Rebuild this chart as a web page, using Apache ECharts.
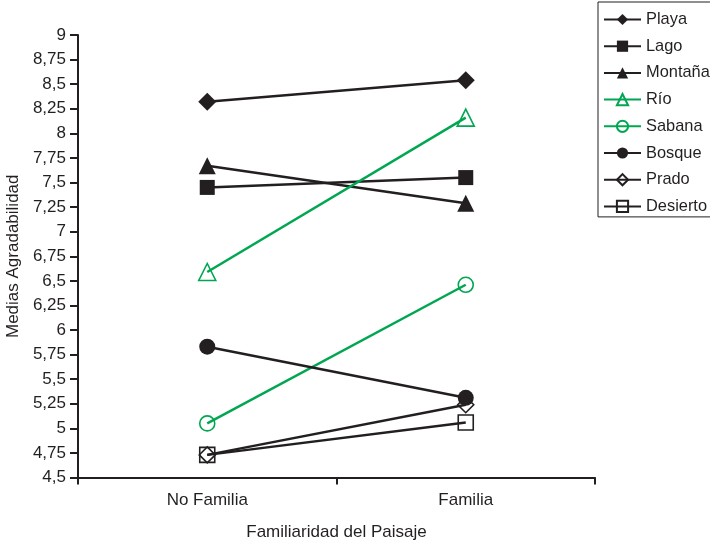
<!DOCTYPE html>
<html>
<head>
<meta charset="utf-8">
<script src="https://cdn.jsdelivr.net/npm/echarts@6/dist/echarts.min.js"></script>
<style>
  html, body { margin: 0; padding: 0; background: #fff; }
  #chart { width: 710px; height: 542px; }
</style>
</head>
<body>
<div id="chart"></div>
<script>
// Mean pleasantness per landscape type, by familiarity
const categories = ['No Familia', 'Familia'];
const playa    = [8.32, 8.54];
const lago     = [7.45, 7.55];
const montana  = [7.67, 7.29];
const rio      = [6.59, 8.16];
const sabana   = [5.05, 6.46];
const bosque   = [5.83, 5.31];
const prado    = [4.73, 5.24];
const desierto = [4.73, 5.06];

const BLACK = '#231f20';
const GREEN = '#00a651';
const FONT = 'Liberation Sans';
const FS = 17;

function serie(name, data, color, symbol, size, hollow) {
  return {
    name, type: 'line', data,
    symbol, symbolSize: size,
    lineStyle: { color, width: 2.5 },
    itemStyle: {
      color: hollow ? 'rgba(255,255,255,0)' : color,
      borderColor: color,
      borderWidth: hollow ? 1.6 : 0
    },
    emphasis: { disabled: true },
    z: 3
  };
}

const chart = echarts.init(document.getElementById('chart'));
chart.setOption({
  animation: false,
  textStyle: { fontFamily: FONT },
  grid: { left: 78, right: 115, top: 35, bottom: 64.5, containLabel: false, outerBoundsMode: 'none' },
  legend: {
    orient: 'vertical',
    left: 598, top: 2,
    padding: [9.5, 2, 2.5, 5],
    itemWidth: 37, itemHeight: 14, itemGap: 10.7,
    borderColor: BLACK, borderWidth: 1,
    textStyle: { fontFamily: FONT, fontSize: 16.4, color: BLACK },
    data: ['Playa', 'Lago', 'Montaña', 'Río', 'Sabana', 'Bosque', 'Prado', 'Desierto']
  },
  xAxis: {
    type: 'category',
    data: categories,
    boundaryGap: true,
    name: 'Familiaridad del Paisaje',
    nameLocation: 'middle',
    nameGap: 46,
    nameTextStyle: { fontSize: FS, color: BLACK },
    axisLine: { lineStyle: { color: BLACK, width: 2 } },
    axisTick: { show: true, length: 7, lineStyle: { color: BLACK, width: 2 } },
    axisLabel: { fontSize: FS, color: BLACK, margin: 14 },
    splitLine: { show: false }
  },
  yAxis: {
    type: 'value',
    min: 4.5, max: 9, interval: 0.25,
    name: 'Medias Agradabilidad',
    nameLocation: 'middle',
    nameGap: 53.5,
    nameTextStyle: { fontSize: FS, color: BLACK },
    axisLine: { show: true, lineStyle: { color: BLACK, width: 2 } },
    axisTick: { show: true, length: 8, lineStyle: { color: BLACK, width: 2 } },
    axisLabel: {
      fontSize: FS, color: BLACK, margin: 12,
      formatter: v => String(v).replace('.', ',')
    },
    splitLine: { show: false }
  },
  series: [
    serie('Playa', playa, BLACK, 'diamond', 18, false),
    serie('Lago', lago, BLACK, 'rect', 15, false),
    serie('Montaña', montana, BLACK, 'triangle', 17, false),
    serie('Río', rio, GREEN, 'triangle', 17, true),
    serie('Sabana', sabana, GREEN, 'circle', 15, true),
    serie('Bosque', bosque, BLACK, 'circle', 16, false),
    serie('Prado', prado, BLACK, 'diamond', 16, true),
    serie('Desierto', desierto, BLACK, 'rect', 15, true)
  ]
});
</script>
</body>
</html>
